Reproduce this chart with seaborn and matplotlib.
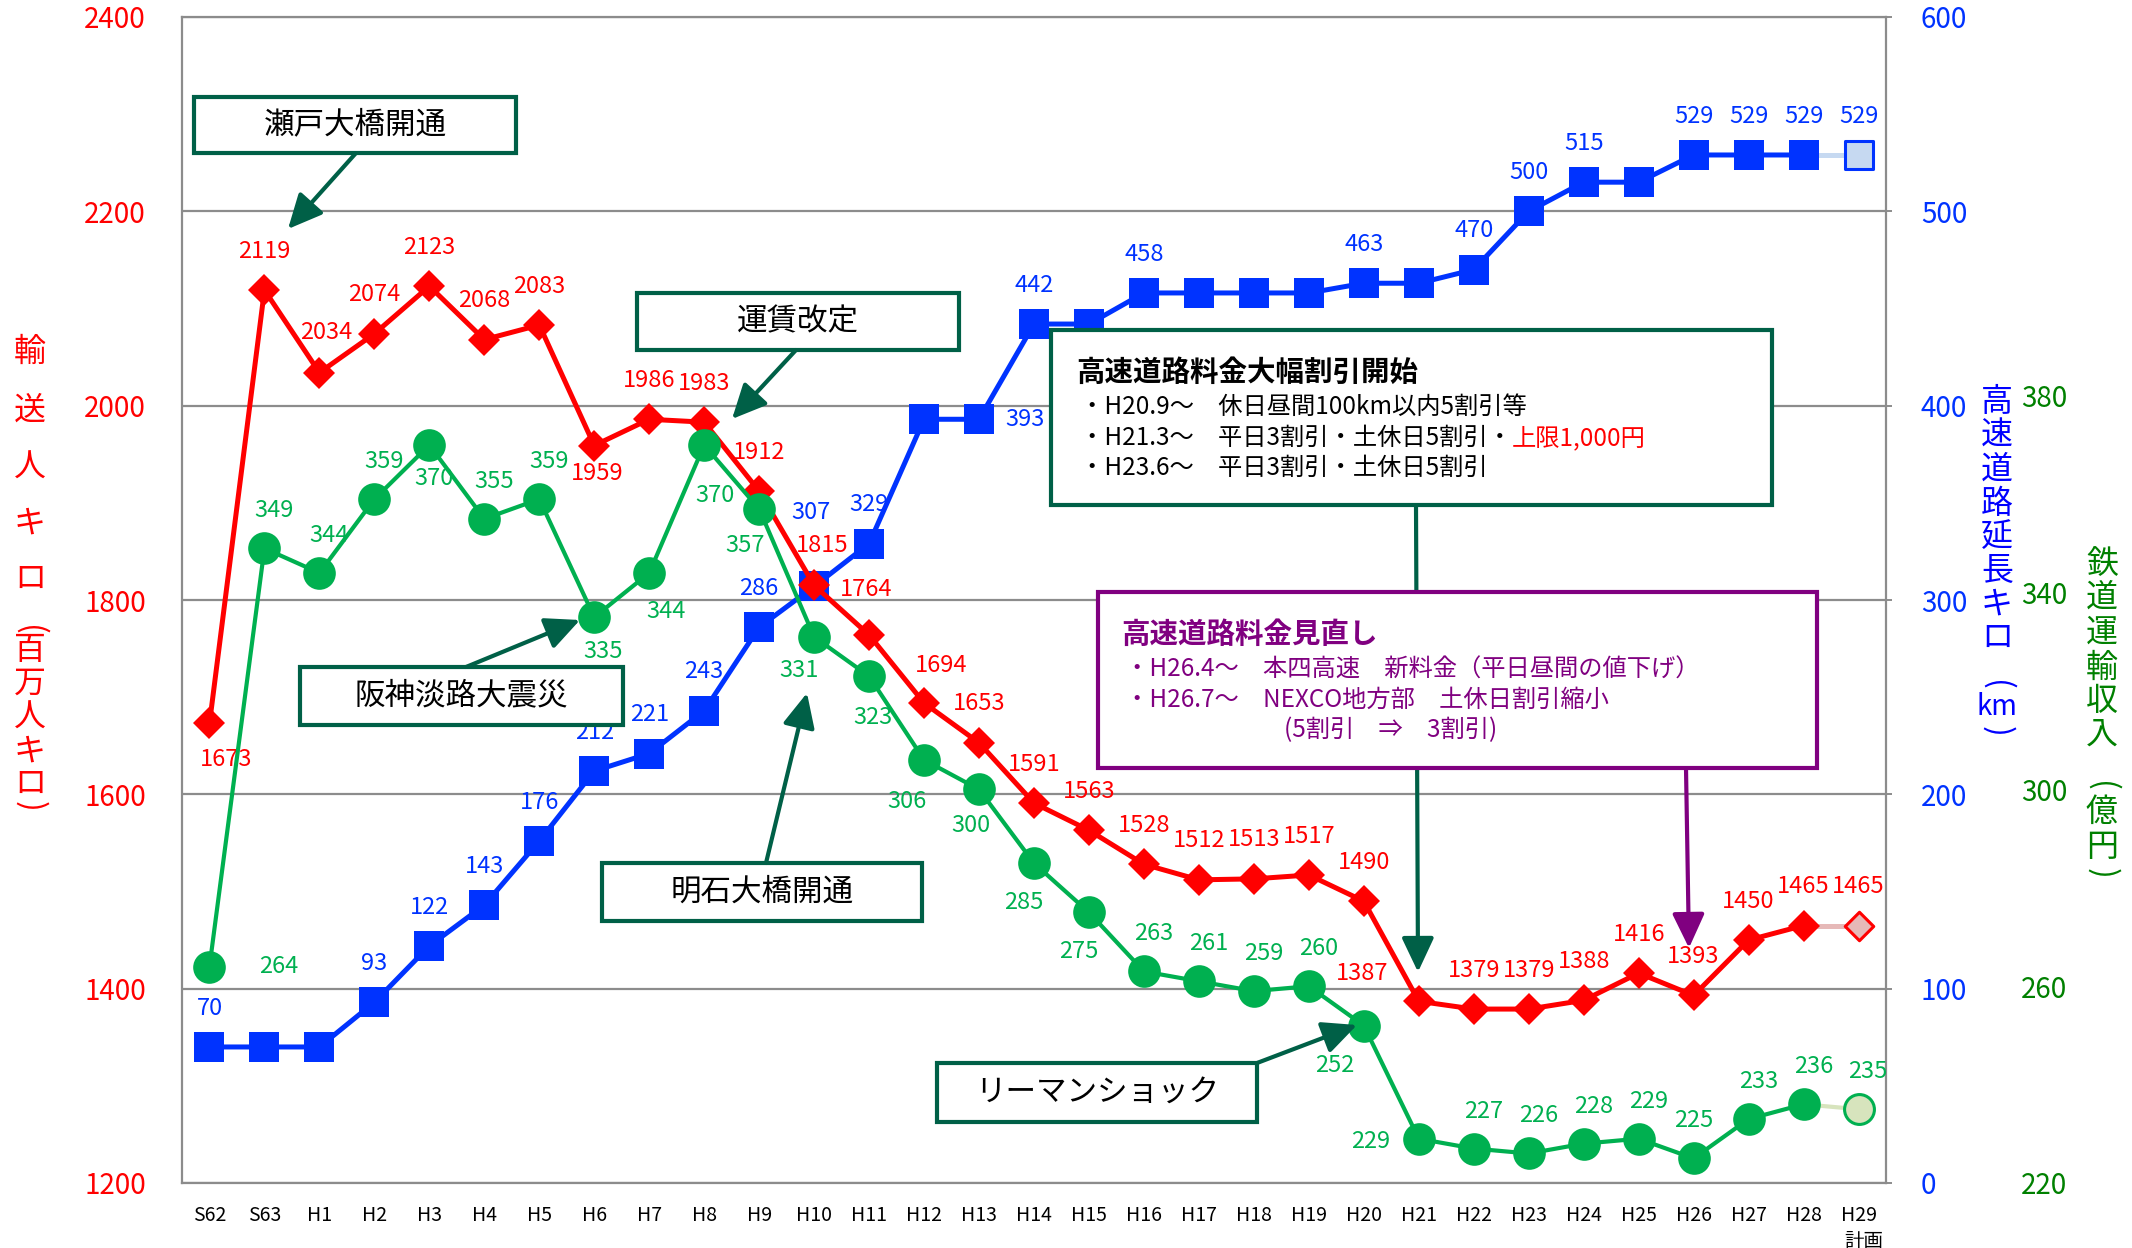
import numpy as np
import pandas as pd
import matplotlib
matplotlib.use("Agg")
import matplotlib.pyplot as plt
import seaborn as sns
from matplotlib.patches import Rectangle
from matplotlib.ticker import FixedLocator

# ---------------------------------------------------------------- data
years = ["S62", "S63"] + [f"H{i}" for i in range(1, 30)]

# 輸送人キロ（百万人キロ） – left axis
rail_pkm = [1673, 2119, 2034, 2074, 2123, 2068, 2083, 1959, 1986, 1983, 1912,
            1815, 1764, 1694, 1653, 1591, 1563, 1528, 1512, 1513, 1517, 1490,
            1387, 1379, 1379, 1388, 1416, 1393, 1450, 1465, 1465]

# 高速道路延長キロ（km） – first right axis
expressway_km = [70, 70, 70, 93, 122, 143, 176, 212, 221, 243, 286, 307, 329,
                 393, 393, 442, 442, 458, 458, 458, 458, 463, 463, 470, 500,
                 515, 515, 529, 529, 529, 529]

# 鉄道運輸収入（億円） – second right axis
rail_revenue = [264, 349, 344, 359, 370, 355, 359, 335, 344, 370, 357, 331,
                323, 306, 300, 285, 275, 263, 261, 259, 260, 252, 229, 227,
                226, 228, 229, 225, 233, 236, 235]

# years whose expressway length carries a value label
expressway_labelled = [0, 3, 4, 5, 6, 7, 8, 9, 10, 11, 12, 14, 15, 17, 21,
                       23, 24, 25, 27, 28, 29, 30]

red_ticks = [1200, 1400, 1600, 1800, 2000, 2200, 2400]
blue_ticks = [0, 100, 200, 300, 400, 500, 600]
green_ticks = [220, 260, 300, 340, 380]

# ---------------------------------------------------------------- style
RED = "#FF0000"
RED_PLAN = "#E6B9B8"
BLUE = "#0033FF"
BLUE_PLAN = "#C6D9F1"
GREEN = "#00B050"
GREEN_PLAN = "#D7E4BD"
GREEN_TICK = "#008000"
DARK_GREEN = "#006047"
PURPLE = "#800080"
GRID = "#8C8C8C"

sns.set_style("white")
plt.rcParams["font.family"] = ["Noto Sans CJK JP", "DejaVu Sans"]
plt.rcParams["axes.unicode_minus"] = False

W, H = 2132, 1248
fig = plt.figure(figsize=(W / 100, H / 100), dpi=100)
fig.patch.set_facecolor("white")

L, R, T, B = 182, 1886, 17, 1183
ax = fig.add_axes([L / W, 1 - B / H, (R - L) / W, (B - T) / H])
ax_b = ax.twinx()
ax_g = ax.twinx()
ax_b.set_zorder(1)
ax.set_zorder(2)
ax_g.set_zorder(3)
ax_b.patch.set_visible(True)
ax_b.patch.set_facecolor("white")
ax.patch.set_visible(False)
ax_g.patch.set_visible(False)

x = np.arange(len(years))
df = pd.DataFrame({"x": x, "rail_pkm": rail_pkm,
                   "expressway_km": expressway_km,
                   "rail_revenue": rail_revenue})
actual = df.iloc[:-1]
plan_seg = df.iloc[-2:]
plan_pt = df.iloc[[-1]]

# ---------------------------------------------------------------- series
def draw_series(axis, col, color, plan_color, marker, ms, lw):
    sns.lineplot(data=plan_seg, x="x", y=col, ax=axis, color=plan_color,
                 linewidth=lw, zorder=2, legend=False)
    sns.lineplot(data=actual, x="x", y=col, ax=axis, color=color,
                 linewidth=lw, marker=marker, markersize=ms,
                 markeredgewidth=0, zorder=3, legend=False)
    sns.scatterplot(data=plan_pt, x="x", y=col, ax=axis, marker=marker,
                    s=(ms - 2) ** 2, color=plan_color, edgecolor=color,
                    linewidth=2.2, zorder=4, legend=False)

draw_series(ax_b, "expressway_km", BLUE, BLUE_PLAN, "s", 22, 3.6)
draw_series(ax, "rail_pkm", RED, RED_PLAN, "D", 16.5, 3.6)
draw_series(ax_g, "rail_revenue", GREEN, GREEN_PLAN, "o", 23.5, 3.0)

# ---------------------------------------------------------------- axes
for a in (ax, ax_b, ax_g):
    a.set_xlim(-0.5, len(years) - 0.5)
    a.set_xlabel("")
    a.set_ylabel("")
    for s in a.spines.values():
        s.set_visible(False)

ax.set_ylim(1200, 2400)
ax_b.set_ylim(0, 600)
ax_g.set_ylim(220, 457)

ax_b.yaxis.set_major_locator(FixedLocator(blue_ticks))
ax_b.yaxis.grid(True, color=GRID, linewidth=1.6)
ax_b.set_axisbelow(True)
ax_b.tick_params(axis="y", direction="out", length=4, width=1.4, color=GRID,
                 pad=21, labelsize=20, labelcolor=BLUE)
for side in ("right", "top"):
    ax_b.spines[side].set_visible(True)
    ax_b.spines[side].set_color(GRID)
    ax_b.spines[side].set_linewidth(1.6)

ax.yaxis.set_major_locator(FixedLocator(red_ticks))
ax.tick_params(axis="y", length=0, pad=26, labelsize=20, labelcolor=RED)
for side in ("left", "bottom"):
    ax.spines[side].set_visible(True)
    ax.spines[side].set_color(GRID)
    ax.spines[side].set_linewidth(1.6)
ax.set_xticks(x)
ax.set_xticklabels(years)
ax.set_xticks(np.arange(0.5, len(years) - 1, 1.0), minor=True)
ax.tick_params(axis="x", which="major", length=0, pad=16, labelsize=14,
               labelcolor="black")
ax.tick_params(axis="x", which="minor", direction="in", length=4, width=1.4,
               color=GRID)

ax_g.yaxis.set_major_locator(FixedLocator(green_ticks))
ax_g.tick_params(axis="y", length=0, pad=97, labelsize=20,
                 labelcolor=GREEN_TICK)

ax.text(x[-1] + 0.1, -0.05, "計画", transform=ax.get_xaxis_transform(),
        ha="center", va="center", fontsize=14, color="black")

# ---------------------------------------------------------------- value labels
def offsets(n, default, special):
    return [special.get(i, default) for i in range(n)]

red_off = offsets(len(years), (0, 28), {
    0: (12, -26), 2: (5, 29), 7: (2, -20), 11: (6, 29), 12: (-2, 33),
    13: (12, 27), 22: (-41, 20)})
green_off = offsets(len(years), (7, 27), {
    0: (50, 0), 4: (3, -24), 7: (6, -25), 8: (12, -28), 9: (8, -36),
    10: (-10, -26), 11: (-11, -24), 12: (3, -30), 13: (-12, -30),
    14: (-6, -26), 15: (-7, -28), 16: (-7, -28), 21: (-21, -29),
    22: (-35, -2), 27: (0, 27)})
blue_off = offsets(len(years), (0, 28), {11: (-2, 53), 14: (33, 0)})

LABEL_SIZE = 17
for i, v in enumerate(rail_pkm):
    ax.annotate(str(v), (x[i], v), xytext=red_off[i], textcoords="offset points",
                ha="center", va="center", fontsize=LABEL_SIZE, color=RED,
                zorder=6)
for i, v in enumerate(rail_revenue):
    ax_g.annotate(str(v), (x[i], v), xytext=green_off[i],
                  textcoords="offset points", ha="center", va="center",
                  fontsize=LABEL_SIZE, color=GREEN, zorder=6)
for i in expressway_labelled:
    v = expressway_km[i]
    ax_b.annotate(str(v), (x[i], v), xytext=blue_off[i],
                  textcoords="offset points", ha="center", va="center",
                  fontsize=LABEL_SIZE, color=BLUE, zorder=6)

# ---------------------------------------------------------------- axis titles (vertical)
def vertical_title(chars, xpx, color, size=23):
    for ch, ypx in chars:
        if ch in "()":
            fig.text(xpx / W, 1 - ypx / H, ch, rotation=-90, ha="center",
                     va="center", color=color, fontsize=size)
        else:
            fig.text(xpx / W, 1 - ypx / H, ch, ha="center", va="center",
                     color=color, fontsize=size if ch != "km" else size - 3)

vertical_title([("輸", 352), ("送", 411), ("人", 468), ("キ", 524),
                ("ロ", 579), ("(", 630), ("百", 650), ("万", 684),
                ("人", 718), ("キ", 752), ("ロ", 784), (")", 806)], 30, RED)
vertical_title([("高", 402), ("速", 436), ("道", 470), ("路", 504),
                ("延", 537), ("長", 571), ("キ", 605), ("ロ", 638),
                ("(", 685), ("km", 707), (")", 731)], 1997, "#0000FF")
vertical_title([("鉄", 564), ("道", 598), ("運", 633), ("輸", 668),
                ("収", 701), ("入", 735), ("(", 786), ("億", 812),
                ("円", 847), (")", 873)], 2102, GREEN_TICK)

# ---------------------------------------------------------------- call-outs
def frac(px, py):
    return ((px - L) / (R - L), (B - py) / (B - T))

def box(x0, y0, x1, y1, color, z=10):
    (fx0, fy1), (fx1, fy0) = frac(x0, y0), frac(x1, y1)
    ax_g.add_patch(Rectangle((fx0, fy0), fx1 - fx0, fy1 - fy0,
                             transform=ax_g.transAxes, facecolor="white",
                             edgecolor=color, linewidth=3.0, zorder=z,
                             clip_on=False))

def arrow(p0, p1, color, z=11):
    ax_g.annotate("", xy=frac(*p1), xytext=frac(*p0), xycoords="axes fraction",
                  textcoords="axes fraction", zorder=z,
                  arrowprops=dict(arrowstyle="-|>,head_length=0.7,head_width=0.33",
                                  mutation_scale=30, lw=3.0, color=color,
                                  shrinkA=0, shrinkB=0))

def label(px, py, s, **kw):
    fx, fy = frac(px, py)
    return ax_g.text(fx, fy, s, transform=ax_g.transAxes, zorder=12, **kw)

simple_boxes = [
    ("瀬戸大橋開通", (194, 97, 516, 153), (356, 153), (288, 229)),
    ("運賃改定", (637, 293, 959, 350), (796, 350), (732, 419)),
    ("阪神淡路大震災", (300, 667, 623, 725), (466, 667), (580, 620)),
    ("明石大橋開通", (602, 863, 922, 921), (766, 863), (807, 693)),
    ("リーマンショック", (937, 1063, 1257, 1122), (1257, 1063), (1357, 1025)),
]
for text, (x0, y0, x1, y1), p0, p1 in simple_boxes:
    box(x0, y0, x1, y1, DARK_GREEN)
    arrow(p0, p1, DARK_GREEN)
    label((x0 + x1) / 2, (y0 + y1) / 2, text, ha="center", va="center",
          fontsize=22, color="black")

# connector from the discount box down to H21 (passes behind the review box)
arrow((1416, 505), (1418, 972), DARK_GREEN, z=8)
box(1051, 330, 1772, 505, DARK_GREEN)
label(1076, 373, "高速道路料金大幅割引開始", ha="left", va="center",
      fontsize=20.5, fontweight="bold", color="black")
label(1080, 407, "・H20.9～\u3000休日昼間100km以内5割引等", ha="left",
      va="center", fontsize=17.5, color="black")
t3 = label(1080, 438, "・H21.3～\u3000平日3割引・土休日5割引・", ha="left",
           va="center", fontsize=17.5, color="black")
ax_g.annotate("上限1,000円", xy=(1, 0.5), xycoords=t3, ha="left", va="center",
              fontsize=17.5, color=RED, zorder=12)
label(1080, 468, "・H23.6～\u3000平日3割引・土休日5割引", ha="left",
      va="center", fontsize=17.5, color="black")

box(1098, 592, 1817, 768, PURPLE)
arrow((1686, 768), (1689, 948), PURPLE)
label(1121, 635, "高速道路料金見直し", ha="left", va="center", fontsize=20.5,
      fontweight="bold", color=PURPLE)
label(1125, 670, "・H26.4～\u3000本四高速\u3000新料金（平日昼間の値下げ）",
      ha="left", va="center", fontsize=17.5, color=PURPLE)
label(1125, 700, "・H26.7～\u3000NEXCO地方部\u3000土休日割引縮小",
      ha="left", va="center", fontsize=17.5, color=PURPLE)
label(1284, 730, "(5割引\u3000⇒\u30003割引)", ha="left", va="center",
      fontsize=17.5, color=PURPLE)

fig.savefig("out.png", dpi=100, facecolor="white")
